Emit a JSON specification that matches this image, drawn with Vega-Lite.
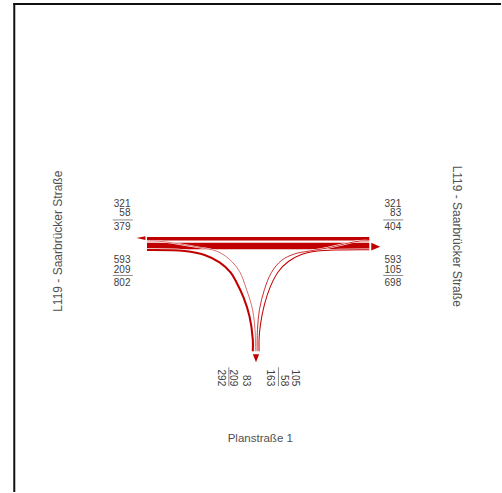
{
  "$schema": "https://vega.github.io/schema/vega-lite/v6.json",
  "width": 502,
  "height": 493,
  "autosize": {"type": "fit", "contains": "padding"},
  "padding": 0,
  "background": "white",
  "config": {"view": {"stroke": null}, "text": {"font": "Liberation Sans"}},
  "datasets": {
    "flows": [
      {"flow": "S321", "kind": "straight", "v": 321, "i": 0, "X": 114, "Y": 5.8},
      {"flow": "S321", "kind": "straight", "v": 321, "i": 1, "X": -108.7, "Y": 5.8},
      {"flow": "S593", "kind": "straight", "v": 593, "i": 0, "X": -108.7, "Y": -1.4},
      {"flow": "S593", "kind": "straight", "v": 593, "i": 1, "X": 114, "Y": -1.4},
      {"flow": "T209", "kind": "turn", "v": 209, "i": 0, "X": -108.7, "Y": -5.5},
      {"flow": "T209", "kind": "turn", "v": 209, "i": 1, "X": -71, "Y": -6.5},
      {"flow": "T209", "kind": "turn", "v": 209, "i": 2, "X": -51, "Y": -10.5},
      {"flow": "T209", "kind": "turn", "v": 209, "i": 3, "X": -36, "Y": -18},
      {"flow": "T209", "kind": "turn", "v": 209, "i": 4, "X": -25, "Y": -28},
      {"flow": "T209", "kind": "turn", "v": 209, "i": 5, "X": -19, "Y": -38},
      {"flow": "T209", "kind": "turn", "v": 209, "i": 6, "X": -12, "Y": -53},
      {"flow": "T209", "kind": "turn", "v": 209, "i": 7, "X": -6, "Y": -72},
      {"flow": "T209", "kind": "turn", "v": 209, "i": 8, "X": -2.7, "Y": -95},
      {"flow": "T209", "kind": "turn", "v": 209, "i": 9, "X": -2.7, "Y": -107},
      {"flow": "T58", "kind": "turn", "v": 58, "i": 0, "X": -0.2, "Y": -107},
      {"flow": "T58", "kind": "turn", "v": 58, "i": 1, "X": -0.2, "Y": -90},
      {"flow": "T58", "kind": "turn", "v": 58, "i": 2, "X": -3, "Y": -65},
      {"flow": "T58", "kind": "turn", "v": 58, "i": 3, "X": -9, "Y": -45},
      {"flow": "T58", "kind": "turn", "v": 58, "i": 4, "X": -16, "Y": -27},
      {"flow": "T58", "kind": "turn", "v": 58, "i": 5, "X": -26, "Y": -15},
      {"flow": "T58", "kind": "turn", "v": 58, "i": 6, "X": -38, "Y": -7},
      {"flow": "T58", "kind": "turn", "v": 58, "i": 7, "X": -56, "Y": -3},
      {"flow": "T58", "kind": "turn", "v": 58, "i": 8, "X": -76, "Y": 0.5},
      {"flow": "T58", "kind": "turn", "v": 58, "i": 9, "X": -96, "Y": 3.2},
      {"flow": "T58", "kind": "turn", "v": 58, "i": 10, "X": -108.7, "Y": 3.6},
      {"flow": "T83", "kind": "turn", "v": 83, "i": 0, "X": 114, "Y": 3.6},
      {"flow": "T83", "kind": "turn", "v": 83, "i": 1, "X": 104, "Y": 3.4},
      {"flow": "T83", "kind": "turn", "v": 83, "i": 2, "X": 89, "Y": 0.5},
      {"flow": "T83", "kind": "turn", "v": 83, "i": 3, "X": 72, "Y": -3.5},
      {"flow": "T83", "kind": "turn", "v": 83, "i": 4, "X": 54, "Y": -6.5},
      {"flow": "T83", "kind": "turn", "v": 83, "i": 5, "X": 39, "Y": -9.5},
      {"flow": "T83", "kind": "turn", "v": 83, "i": 6, "X": 26, "Y": -16},
      {"flow": "T83", "kind": "turn", "v": 83, "i": 7, "X": 16, "Y": -28},
      {"flow": "T83", "kind": "turn", "v": 83, "i": 8, "X": 9, "Y": -45},
      {"flow": "T83", "kind": "turn", "v": 83, "i": 9, "X": 4, "Y": -65},
      {"flow": "T83", "kind": "turn", "v": 83, "i": 10, "X": 2, "Y": -85},
      {"flow": "T83", "kind": "turn", "v": 83, "i": 11, "X": 1.6, "Y": -107},
      {"flow": "T105", "kind": "turn", "v": 105, "i": 0, "X": 114, "Y": -5.2},
      {"flow": "T105", "kind": "turn", "v": 105, "i": 1, "X": 84, "Y": -5.4},
      {"flow": "T105", "kind": "turn", "v": 105, "i": 2, "X": 62, "Y": -6.5},
      {"flow": "T105", "kind": "turn", "v": 105, "i": 3, "X": 46, "Y": -10},
      {"flow": "T105", "kind": "turn", "v": 105, "i": 4, "X": 33, "Y": -17},
      {"flow": "T105", "kind": "turn", "v": 105, "i": 5, "X": 23, "Y": -27},
      {"flow": "T105", "kind": "turn", "v": 105, "i": 6, "X": 15, "Y": -42},
      {"flow": "T105", "kind": "turn", "v": 105, "i": 7, "X": 9, "Y": -60},
      {"flow": "T105", "kind": "turn", "v": 105, "i": 8, "X": 5, "Y": -80},
      {"flow": "T105", "kind": "turn", "v": 105, "i": 9, "X": 3.6, "Y": -95},
      {"flow": "T105", "kind": "turn", "v": 105, "i": 10, "X": 3.6, "Y": -107}
    ]
  },
  "layer": [
    {
      "data": {"values": [
        {"X": -241.7, "Y": 242, "X2": -241.7, "Y2": -248},
        {"X": -242.7, "Y": 241, "X2": 246, "Y2": 241}
      ]},
      "mark": {"type": "rule", "color": "#111111", "strokeWidth": 2},
      "encoding": {
        "x": {"field": "X", "type": "quantitative", "scale": {"domain": [-256, 246], "nice": false, "zero": false}, "axis": null},
        "y": {"field": "Y", "type": "quantitative", "scale": {"domain": [-248, 245], "nice": false, "zero": false}, "axis": null},
        "x2": {"field": "X2"},
        "y2": {"field": "Y2"}
      }
    },
    {
      "data": {"name": "flows"},
      "transform": [{"filter": "datum.kind === 'straight'"}],
      "mark": {"type": "line", "color": "white"},
      "encoding": {
        "x": {"field": "X", "type": "quantitative", "axis": null},
        "y": {"field": "Y", "type": "quantitative", "axis": null},
        "detail": {"field": "flow"},
        "order": {"field": "i", "type": "quantitative"},
        "strokeWidth": {"field": "v", "type": "quantitative", "scale": {"domain": [0, 1000], "range": [1.4, 12.4]}, "legend": null}
      }
    },
    {
      "data": {"name": "flows"},
      "transform": [{"filter": "datum.kind === 'straight'"}],
      "mark": {"type": "line", "color": "#c00000"},
      "encoding": {
        "x": {"field": "X", "type": "quantitative", "axis": null},
        "y": {"field": "Y", "type": "quantitative", "axis": null},
        "detail": {"field": "flow"},
        "order": {"field": "i", "type": "quantitative"},
        "strokeWidth": {"field": "v", "type": "quantitative", "scale": {"domain": [0, 1000], "range": [0, 11]}, "legend": null}
      }
    },
    {
      "data": {"name": "flows"},
      "transform": [{"filter": "datum.kind === 'turn'"}],
      "mark": {"type": "line", "color": "white", "interpolate": "catmull-rom"},
      "encoding": {
        "x": {"field": "X", "type": "quantitative", "axis": null},
        "y": {"field": "Y", "type": "quantitative", "axis": null},
        "detail": {"field": "flow"},
        "order": {"field": "i", "type": "quantitative"},
        "strokeWidth": {"field": "v", "type": "quantitative", "scale": {"domain": [0, 1000], "range": [1.2, 11]}, "legend": null}
      }
    },
    {
      "data": {"name": "flows"},
      "transform": [{"filter": "datum.kind === 'turn'"}],
      "mark": {"type": "line", "color": "#c00000", "interpolate": "catmull-rom"},
      "encoding": {
        "x": {"field": "X", "type": "quantitative", "axis": null},
        "y": {"field": "Y", "type": "quantitative", "axis": null},
        "detail": {"field": "flow"},
        "order": {"field": "i", "type": "quantitative"},
        "strokeWidth": {"field": "v", "type": "quantitative", "scale": {"domain": [0, 1000], "range": [0, 9.8]}, "legend": null}
      }
    },
    {
      "data": {"values": [
        {"dir": "left", "X": -114.8, "Y": 6.4},
        {"dir": "right", "X": 120.5, "Y": -2.2},
        {"dir": "down", "X": 0.5, "Y": -114}
      ]},
      "mark": {"type": "point", "filled": true, "color": "#c00000", "opacity": 1, "size": 81, "strokeWidth": 0},
      "encoding": {
        "x": {"field": "X", "type": "quantitative", "axis": null},
        "y": {"field": "Y", "type": "quantitative", "axis": null},
        "shape": {"field": "dir", "type": "nominal", "legend": null, "scale": {"domain": ["left", "right", "down"], "range": ["M1,-0.4L-1,0L1,0.4Z", "M-1,-0.85L1,0L-1,0.85Z", "M-0.7,-0.9L0.7,-0.9L0,0.9Z"]}}
      }
    },
    {
      "data": {"values": [
        {"X": -143, "Y": 24.6, "X2": -123, "Y2": 24.6},
        {"X": -143, "Y": -31, "X2": -123, "Y2": -31},
        {"X": 128, "Y": 24.6, "X2": 148, "Y2": 24.6},
        {"X": 128, "Y": -31, "X2": 148, "Y2": -31},
        {"X": -26.7, "Y": -123, "X2": -26.7, "Y2": -142},
        {"X": 23, "Y": -123, "X2": 23, "Y2": -142}
      ]},
      "mark": {"type": "rule", "color": "#8a8a8a", "strokeWidth": 1},
      "encoding": {
        "x": {"field": "X", "type": "quantitative", "axis": null},
        "y": {"field": "Y", "type": "quantitative", "axis": null},
        "x2": {"field": "X2"},
        "y2": {"field": "Y2"}
      }
    },
    {
      "data": {"values": [
        {"label": "321", "X": -125.3, "Y": 41},
        {"label": "58", "X": -125.3, "Y": 31.3},
        {"label": "379", "X": -125.3, "Y": 17.2},
        {"label": "593", "X": -125.3, "Y": -15.3},
        {"label": "209", "X": -125.3, "Y": -26},
        {"label": "802", "X": -125.3, "Y": -39},
        {"label": "321", "X": 146, "Y": 41},
        {"label": "83", "X": 146, "Y": 31.3},
        {"label": "404", "X": 146, "Y": 17.2},
        {"label": "593", "X": 146, "Y": -15.3},
        {"label": "105", "X": 146, "Y": -26},
        {"label": "698", "X": 146, "Y": -39}
      ]},
      "mark": {"type": "text", "align": "right", "baseline": "middle", "fontSize": 10, "color": "#404040"},
      "encoding": {
        "x": {"field": "X", "type": "quantitative", "axis": null},
        "y": {"field": "Y", "type": "quantitative", "axis": null},
        "text": {"field": "label"}
      }
    },
    {
      "data": {"values": [
        {"label": "292", "X": -34.3, "Y": -142},
        {"label": "209", "X": -23, "Y": -142},
        {"label": "83", "X": -9.3, "Y": -142},
        {"label": "163", "X": 15, "Y": -142},
        {"label": "58", "X": 28.3, "Y": -142},
        {"label": "105", "X": 40, "Y": -142}
      ]},
      "mark": {"type": "text", "align": "right", "baseline": "middle", "fontSize": 10, "angle": 90, "color": "#404040"},
      "encoding": {
        "x": {"field": "X", "type": "quantitative", "axis": null},
        "y": {"field": "Y", "type": "quantitative", "axis": null},
        "text": {"field": "label"}
      }
    },
    {
      "data": {"values": [{"label": "L119 - Saarbrücker Straße", "X": -198, "Y": 3.3}]},
      "mark": {"type": "text", "align": "center", "baseline": "middle", "fontSize": 12, "angle": 270, "color": "#505050"},
      "encoding": {
        "x": {"field": "X", "type": "quantitative", "axis": null},
        "y": {"field": "Y", "type": "quantitative", "axis": null},
        "text": {"field": "label"}
      }
    },
    {
      "data": {"values": [{"label": "L119 - Saarbrücker Straße", "X": 201.5, "Y": 8.3}]},
      "mark": {"type": "text", "align": "center", "baseline": "middle", "fontSize": 12, "angle": 90, "color": "#505050"},
      "encoding": {
        "x": {"field": "X", "type": "quantitative", "axis": null},
        "y": {"field": "Y", "type": "quantitative", "axis": null},
        "text": {"field": "label"}
      }
    },
    {
      "data": {"values": [{"label": "Planstraße 1", "X": 4.8, "Y": -194.5}]},
      "mark": {"type": "text", "align": "center", "baseline": "middle", "fontSize": 11.5, "color": "#505050"},
      "encoding": {
        "x": {"field": "X", "type": "quantitative", "axis": null},
        "y": {"field": "Y", "type": "quantitative", "axis": null},
        "text": {"field": "label"}
      }
    }
  ],
  "resolve": {"scale": {"strokeWidth": "independent"}}
}
